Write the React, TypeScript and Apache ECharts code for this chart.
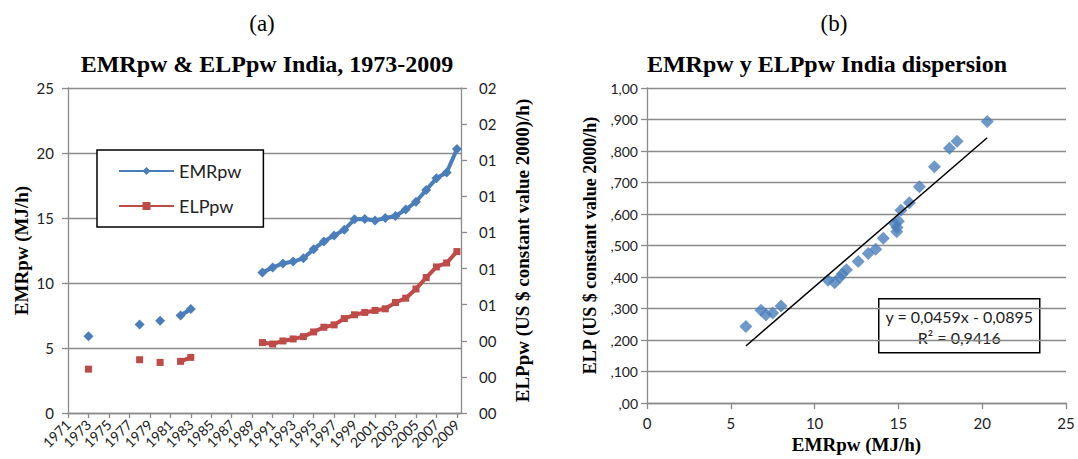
import { useEffect, useRef } from "react";
import * as echarts from "echarts";

// Observed years and the two per-worker series (India)
const YEAR_FIRST = 1971;
const YEAR_LAST = 2009;
const obsYears = [
  1973, 1978, 1980, 1982, 1983, 1990, 1991, 1992, 1993, 1994, 1995, 1996, 1997,
  1998, 1999, 2000, 2001, 2002, 2003, 2004, 2005, 2006, 2007, 2008, 2009,
];
const emrpw = [
  5.9, 6.8, 7.1, 7.5, 8.0, 10.8, 11.2, 11.5, 11.65, 11.9, 12.6, 13.2, 13.65,
  14.1, 14.9, 14.92, 14.8, 15.0, 15.15, 15.65, 16.25, 17.15, 18.05, 18.5, 20.3,
];
const elppw = [
  0.243, 0.295, 0.28, 0.286, 0.308, 0.39, 0.382, 0.399, 0.41, 0.423, 0.449,
  0.475, 0.488, 0.523, 0.544, 0.557, 0.568, 0.577, 0.612, 0.636, 0.687, 0.75,
  0.809, 0.831, 0.894,
];

// Linear fit shown on the dispersion chart
const fitSlope = 0.0459;
const fitIntercept = -0.0895;
const fitLabel = ["y = 0,0459x - 0,0895", "R² = 0,9416"];

// Tick label texts
const rightAxisLabels = ["00", "00", "00", "01", "01", "01", "01", "01", "02", "02"];
const elpAxisLabels = [",00", ",100", ",200", ",300", ",400", ",500", ",600", ",700", ",800", ",900", "1,00"];

const BLUE = "#4A7EBB";
const RED = "#BE4B48";
const GRID_GRAY = "#8a8a8a";
const SERIF = "Liberation Serif, DejaVu Serif, serif";
const SANS = "Lato, Open Sans, sans-serif";

const allYears = Array.from({ length: YEAR_LAST - YEAR_FIRST + 1 }, (_, i) => YEAR_FIRST + i);
const byYear = (vals: number[]) =>
  allYears.map((y) => {
    const k = obsYears.indexOf(y);
    return [y, k >= 0 ? vals[k] : null];
  });

export default function App() {
  const ref = useRef<HTMLDivElement>(null);

  useEffect(() => {
    if (!ref.current) return;
    const chart = echarts.init(ref.current, null, { renderer: "svg" });

    const xMin = Math.min(...emrpw);
    const xMax = Math.max(...emrpw);
    const fitLine = [xMin, xMax].map((x) => [x, fitSlope * x + fitIntercept]);

    const axisLineStyle = { lineStyle: { color: GRID_GRAY, width: 1.3 } };
    const splitLineStyle = { show: true, lineStyle: { color: GRID_GRAY, width: 1.3 } };
    const tickStyle = { show: true, length: 6, lineStyle: { color: GRID_GRAY, width: 1.3 } };
    const nameStyle = { fontFamily: SERIF, fontWeight: "bold" as const, fontSize: 19, color: "#000" };
    const tickLabel = { fontFamily: SANS, fontSize: 15, color: "#222" };

    chart.setOption({
      animation: false,
      backgroundColor: "#fff",
      title: [
        { text: "(a)", left: 257, top: 7, textAlign: "center", textStyle: { fontFamily: SERIF, fontWeight: "normal", fontSize: 23, color: "#000" } },
        { text: "EMRpw & ELPpw India, 1973-2009", left: 262, top: 47, textAlign: "center", textStyle: { fontFamily: SERIF, fontWeight: "bold", fontSize: 24, color: "#000" } },
        { text: "(b)", left: 829, top: 7, textAlign: "center", textStyle: { fontFamily: SERIF, fontWeight: "normal", fontSize: 23, color: "#000" } },
        { text: "EMRpw y ELPpw India dispersion", left: 822, top: 47, textAlign: "center", textStyle: { fontFamily: SERIF, fontWeight: "bold", fontSize: 24, color: "#000" } },
      ],
      legend: {
        data: ["EMRpw", "ELPpw"],
        orient: "vertical",
        left: 97,
        top: 150,
        padding: [12, 22, 12, 21],
        itemGap: 17,
        itemWidth: 55,
        itemHeight: 10,
        borderColor: "#000",
        borderWidth: 1.5,
        backgroundColor: "#fff",
        textStyle: { fontFamily: SANS, fontSize: 18, color: "#222" },
      },
      grid: [
        { left: 68, top: 88, width: 393, height: 325 },
        { left: 647, top: 88, width: 419, height: 320 },
      ],
      xAxis: [
        {
          type: "value",
          gridIndex: 0,
          min: YEAR_FIRST,
          max: 2009.4,
          interval: 2,
          axisLine: axisLineStyle,
          axisTick: { ...tickStyle, length: 5 },
          splitLine: { show: false },
          axisLabel: {
            ...tickLabel,
            fontSize: 14,
            rotate: 45,
            margin: 9,
            showMaxLabel: false,
            formatter: (v: number) => (Number.isInteger(v) ? String(v) : ""),
          },
        },
        {
          type: "value",
          gridIndex: 1,
          min: 0,
          max: 25,
          interval: 5,
          axisLine: axisLineStyle,
          axisTick: tickStyle,
          splitLine: { show: false },
          axisLabel: { ...tickLabel, margin: 12 },
          name: "EMRpw (MJ/h)",
          nameLocation: "middle",
          nameGap: 29,
          nameTextStyle: nameStyle,
        },
      ],
      yAxis: [
        {
          type: "value",
          gridIndex: 0,
          min: 0,
          max: 25,
          interval: 5,
          axisLine: { show: true, ...axisLineStyle },
          axisTick: tickStyle,
          splitLine: splitLineStyle,
          axisLabel: { ...tickLabel, margin: 14 },
          name: "EMRpw (MJ/h)",
          nameLocation: "middle",
          nameRotate: 90,
          nameGap: 37,
          nameTextStyle: nameStyle,
        },
        {
          type: "value",
          gridIndex: 0,
          position: "right",
          min: 0,
          max: 1.8,
          interval: 0.2,
          axisLine: { show: true, ...axisLineStyle },
          axisTick: tickStyle,
          splitLine: { show: false },
          axisLabel: {
            ...tickLabel,
            margin: 18,
            formatter: (v: number) => rightAxisLabels[Math.round(v / 0.2)] ?? "",
          },
          name: "ELPpw (US $ constant value 2000)/h)",
          nameLocation: "middle",
          nameRotate: 90,
          nameGap: 52,
          nameTextStyle: nameStyle,
        },
        {
          type: "value",
          gridIndex: 1,
          min: 0,
          max: 1,
          interval: 0.1,
          axisLine: { show: true, ...axisLineStyle },
          axisTick: tickStyle,
          splitLine: splitLineStyle,
          axisLabel: {
            ...tickLabel,
            fontSize: 14,
            margin: 9,
            formatter: (v: number) => elpAxisLabels[Math.round(v * 10)] ?? "",
          },
          name: "ELP (US $ constant value 2000/h)",
          nameLocation: "middle",
          nameRotate: 90,
          nameGap: 48,
          nameTextStyle: { ...nameStyle, fontSize: 18 },
        },
      ],
      series: [
        {
          name: "EMRpw",
          type: "line",
          xAxisIndex: 0,
          yAxisIndex: 0,
          data: byYear(emrpw),
          connectNulls: false,
          symbol: "diamond",
          symbolSize: 10,
          showAllSymbol: true,
          lineStyle: { color: BLUE, width: 4 },
          itemStyle: { color: BLUE },
        },
        {
          name: "ELPpw",
          type: "line",
          xAxisIndex: 0,
          yAxisIndex: 1,
          data: byYear(elppw),
          connectNulls: false,
          symbol: "rect",
          symbolSize: 7,
          showAllSymbol: true,
          lineStyle: { color: RED, width: 4 },
          itemStyle: { color: RED },
        },
        {
          name: "dispersion",
          type: "scatter",
          xAxisIndex: 1,
          yAxisIndex: 2,
          data: emrpw.map((x, i) => [x, elppw[i]]),
          symbol: "diamond",
          symbolSize: 13,
          itemStyle: { color: BLUE },
        },
        {
          name: "fit",
          type: "line",
          xAxisIndex: 1,
          yAxisIndex: 2,
          data: fitLine,
          symbol: "none",
          lineStyle: { color: "#000", width: 1.5 },
        },
      ],
      graphic: [
        {
          type: "group",
          left: 878,
          top: 298,
          children: [
            { type: "rect", shape: { x: 0, y: 0, width: 161, height: 54 }, style: { fill: "#fff", stroke: "#000", lineWidth: 1.5 } },
            { type: "text", x: 80.5, y: 18, style: { text: fitLabel[0], fontFamily: SANS, fontSize: 16, fill: "#222", align: "center", verticalAlign: "middle" } },
            { type: "text", x: 80.5, y: 39, style: { text: fitLabel[1], fontFamily: SANS, fontSize: 16, fill: "#222", align: "center", verticalAlign: "middle" } },
          ],
        },
      ],
    });

    return () => chart.dispose();
  }, []);

  return (
    <div
      ref={ref}
      style={{ position: "fixed", left: 0, top: 0, width: 1078, height: 459, background: "#fff" }}
    />
  );
}
